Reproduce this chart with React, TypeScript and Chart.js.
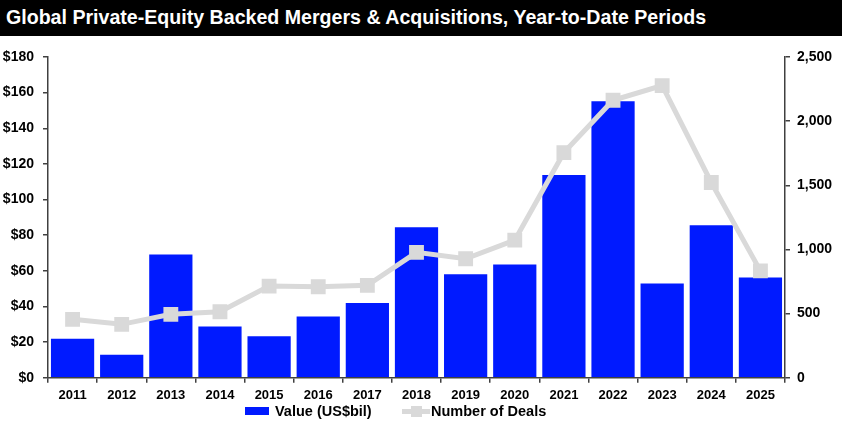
import React, { useEffect, useRef } from "react";
import { Chart, registerables } from "chart.js";

Chart.register(...registerables);

// Year-to-date periods
const years = ["2011", "2012", "2013", "2014", "2015", "2016", "2017", "2018", "2019", "2020", "2021", "2022", "2023", "2024", "2025"];
// Deal value, US$ billions
const valueBil = [21.8, 12.9, 69.2, 28.8, 23.2, 34.4, 41.9, 84.5, 58.0, 63.6, 113.7, 155.2, 52.9, 85.6, 56.3];
// Number of deals
const dealCount = [455, 416, 494, 514, 714, 709, 720, 977, 927, 1072, 1755, 2163, 2277, 1522, 833];

const titleText = "Global Private-Equity Backed Mergers & Acquisitions, Year-to-Date Periods";
const valueLabel = "Value (US$bil)";
const dealsLabel = "Number of Deals";

const FONT = "'Liberation Sans', Arial, Helvetica, sans-serif";
const BLUE = "#001AFF";
const GREY = "#D9D9D9";
const AXIS = "#404040";

export default function App() {
  const canvasRef = useRef<HTMLCanvasElement | null>(null);

  useEffect(() => {
    document.body.style.margin = "0";
    const canvas = canvasRef.current;
    if (!canvas) return;
    const chart = new Chart(canvas, {
      type: "bar",
      data: {
        labels: years,
        datasets: [
          {
            type: "line",
            label: dealsLabel,
            data: dealCount,
            yAxisID: "y1",
            borderColor: GREY,
            backgroundColor: GREY,
            borderWidth: 5,
            pointStyle: "rect",
            pointRadius: 10.5,
            pointBackgroundColor: GREY,
            pointBorderWidth: 0,
            tension: 0,
            order: 1,
          } as any,
          {
            type: "bar",
            label: valueLabel,
            data: valueBil,
            yAxisID: "y",
            backgroundColor: BLUE,
            borderWidth: 0,
            barPercentage: 0.88,
            categoryPercentage: 1,
            order: 2,
          },
        ],
      },
      options: {
        animation: false,
        responsive: false,
        maintainAspectRatio: false,
        layout: { padding: { top: 21, left: 0, right: 0, bottom: 0 } },
        plugins: {
          legend: { display: false },
          tooltip: { enabled: false },
          title: { display: false },
        },
        scales: {
          x: {
            offset: true,
            grid: {
              offset: true,
              drawOnChartArea: false,
              drawTicks: true,
              tickLength: 5,
              color: AXIS,
              lineWidth: 1.5,
            },
            border: { display: true, color: AXIS, width: 1.5 },
            ticks: {
              color: "#000",
              font: { family: FONT, size: 13, weight: "bold" },
              padding: 5,
              maxRotation: 0,
              autoSkip: false,
            },
            afterFit: (s: any) => {
              s.height = 44.3;
            },
          },
          y: {
            position: "left",
            min: 0,
            max: 180,
            grid: {
              drawOnChartArea: false,
              drawTicks: true,
              tickLength: 5,
              color: AXIS,
              lineWidth: 1.5,
            },
            border: { display: true, color: AXIS, width: 1.5 },
            ticks: {
              stepSize: 20,
              color: "#000",
              font: { family: FONT, size: 14, weight: "bold" },
              padding: 9,
              callback: (v: any) => "$" + v,
            },
            afterFit: (s: any) => {
              s.width = 48;
            },
          },
          y1: {
            position: "right",
            min: 0,
            max: 2500,
            grid: {
              drawOnChartArea: false,
              drawTicks: true,
              tickLength: 5,
              color: AXIS,
              lineWidth: 1.5,
            },
            border: { display: true, color: AXIS, width: 1.5 },
            ticks: {
              stepSize: 500,
              color: "#000",
              font: { family: FONT, size: 14, weight: "bold" },
              padding: 7,
              callback: (v: any) => Number(v).toLocaleString("en-US"),
            },
            afterFit: (s: any) => {
              s.width = 57;
            },
          },
        },
      },
    });
    return () => chart.destroy();
  }, []);

  return (
    <div style={{ position: "relative", width: 842, height: 422, background: "#fff", overflow: "hidden", fontFamily: FONT }}>
      <div
        style={{
          position: "absolute",
          left: 0,
          top: 0,
          width: 842,
          height: 36,
          background: "#000",
          color: "#fff",
          overflow: "hidden",
        }}
      >
        <div
          style={{
            position: "absolute",
            left: 6,
            top: -1.5,
            lineHeight: "36px",
            fontSize: 19.6,
            fontWeight: "bold",
            whiteSpace: "nowrap",
          }}
        >
          {titleText}
        </div>
      </div>
      <canvas ref={canvasRef} width={842} height={386} style={{ position: "absolute", left: 0, top: 36, width: 842, height: 386 }} />
      <div style={{ position: "absolute", left: 0, top: 402, width: 842, height: 18, fontWeight: "bold", fontSize: 14.5, color: "#000" }}>
        <div style={{ position: "absolute", left: 245, top: 5, width: 24, height: 8, background: BLUE }} />
        <div style={{ position: "absolute", left: 275, top: 0, lineHeight: "18px", whiteSpace: "nowrap" }}>{valueLabel}</div>
        <div style={{ position: "absolute", left: 402, top: 7, width: 28, height: 5, background: GREY }} />
        <div style={{ position: "absolute", left: 411, top: 4, width: 11, height: 11, background: GREY }} />
        <div style={{ position: "absolute", left: 431, top: 0, lineHeight: "18px", whiteSpace: "nowrap" }}>{dealsLabel}</div>
      </div>
    </div>
  );
}
